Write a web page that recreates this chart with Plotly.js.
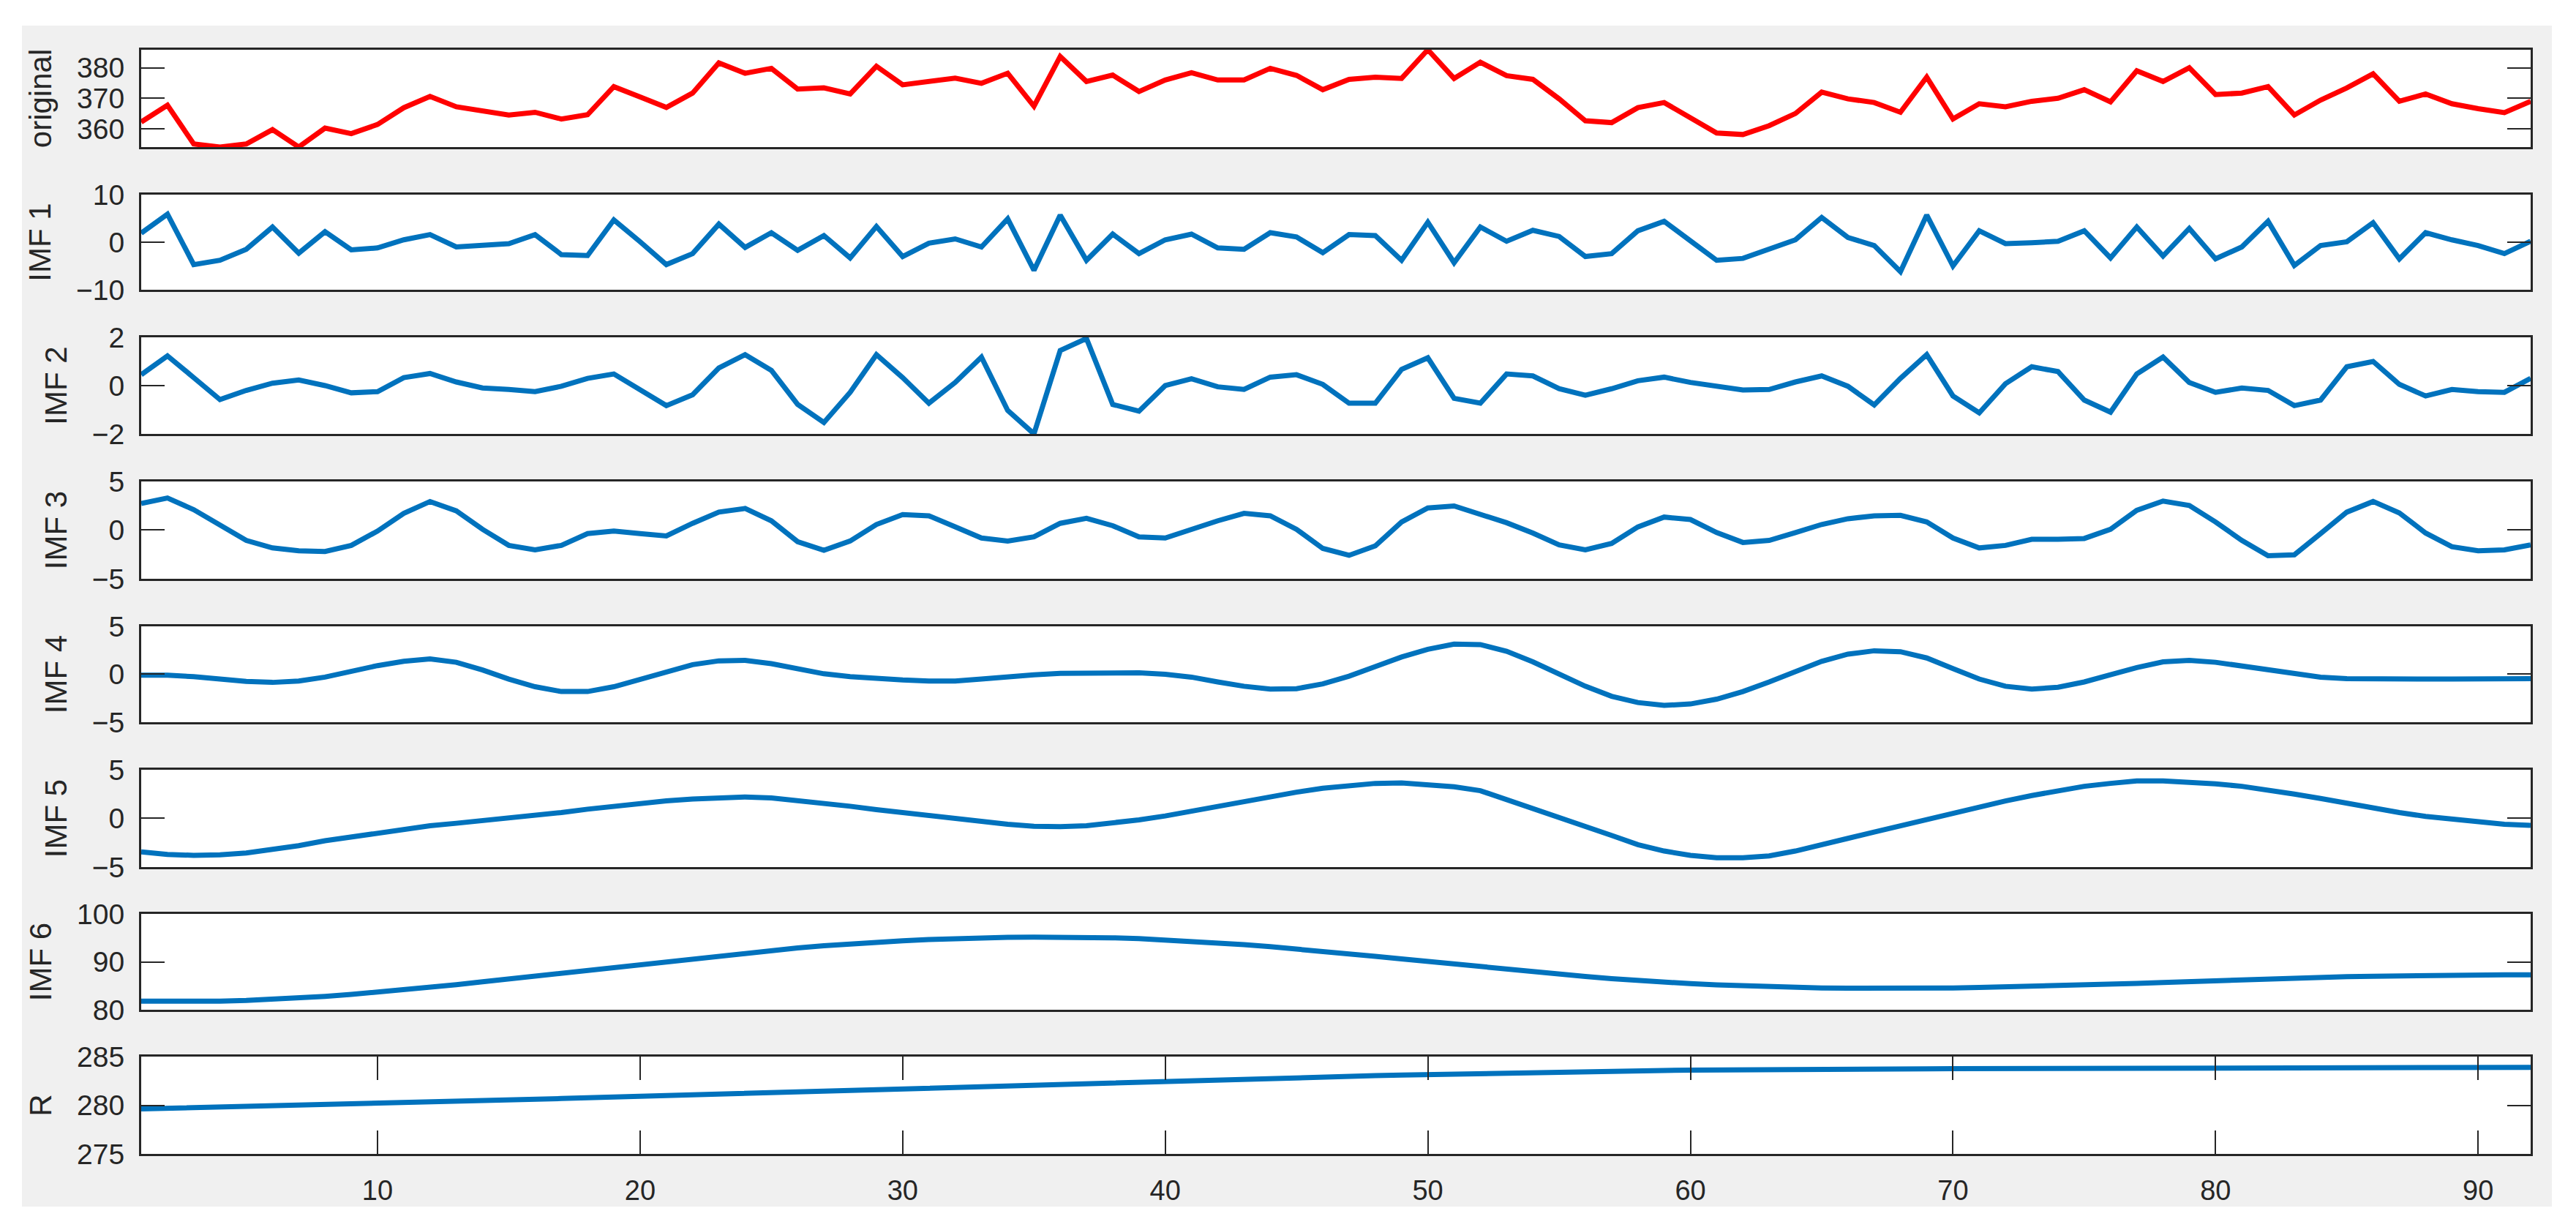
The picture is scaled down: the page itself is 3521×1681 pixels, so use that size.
<!DOCTYPE html>
<html>
<head>
<meta charset="utf-8">
<script src="https://cdn.plot.ly/plotly-3.0.1.min.js"></script>
<style>
  html, body { margin: 0; padding: 0; background: #ffffff; width: 3521px; height: 1681px; overflow: hidden; }
  #chart { position: absolute; left: 30px; top: 35px; width: 3458px; height: 1614px; }
</style>
</head>
<body>
<div id="chart"></div>
<script>
// ---------------- data ----------------
const sampleIndex = Array.from({length: 92}, (_, i) => i + 1);

const original = [362.2,367.7,355.0,354.0,355.0,359.7,354.0,360.2,358.4,361.4,
  366.9,370.6,367.2,365.8,364.5,365.4,363.2,364.6,373.8,370.4,
  367.0,371.7,381.6,378.2,379.8,373.0,373.4,371.4,380.5,374.4,
  375.6,376.6,374.9,378.2,367.4,383.7,375.5,377.6,372.2,376.0,
  378.4,376.0,376.0,379.8,377.5,372.8,376.2,376.9,376.5,385.9,
  376.5,381.8,377.4,376.2,369.8,362.6,362.0,366.9,368.6,363.4,
  358.6,358.1,361.0,365.0,372.0,369.8,368.6,365.4,376.9,363.2,
  368.2,367.2,369.0,370.0,372.8,368.8,379.0,375.5,380.0,371.2,
  371.7,373.8,364.5,369.4,373.4,378.0,369.0,371.4,368.2,366.6,
  365.3,369.0];

const imf1 = [1.9,5.9,-4.7,-3.8,-1.5,3.2,-2.3,2.2,-1.6,-1.2,
  0.5,1.6,-1.0,-0.7,-0.3,1.6,-2.6,-2.8,4.7,0.1,
  -4.7,-2.4,3.8,-1.1,2.0,-1.7,1.4,-3.3,3.3,-3.0,
  -0.2,0.7,-1.0,4.9,-5.9,5.7,-3.8,1.7,-2.4,0.5,
  1.7,-1.2,-1.5,2.0,1.1,-2.2,1.6,1.4,-3.8,4.2,
  -4.3,3.2,0.2,2.5,1.2,-3.0,-2.4,2.4,4.4,0.3,
  -3.8,-3.4,-1.5,0.5,5.2,1.0,-0.7,-6.2,5.7,-5.0,
  2.4,-0.3,-0.1,0.2,2.4,-3.3,3.2,-2.9,2.9,-3.5,
  -1.0,4.4,-4.9,-0.7,0.1,4.1,-3.5,2.0,0.5,-0.7,
  -2.4,0.2];

const imf2 = [0.45,1.23,0.33,-0.58,-0.2,0.1,0.23,0.0,-0.3,-0.25,
  0.33,0.5,0.15,-0.1,-0.16,-0.25,-0.03,0.3,0.48,-0.18,
  -0.83,-0.38,0.73,1.28,0.63,-0.78,-1.53,-0.28,1.28,0.33,
  -0.73,0.13,1.18,-1.03,-2.0,1.45,1.95,-0.78,-1.06,0.0,
  0.28,-0.05,-0.16,0.35,0.45,0.05,-0.73,-0.73,0.67,1.15,
  -0.53,-0.73,0.48,0.4,-0.13,-0.4,-0.13,0.2,0.35,0.13,
  -0.05,-0.18,-0.16,0.15,0.4,-0.03,-0.8,0.3,1.28,-0.43,
  -1.13,0.08,0.78,0.58,-0.6,-1.1,0.48,1.18,0.13,-0.28,
  -0.1,-0.2,-0.83,-0.6,0.78,1.0,0.05,-0.43,-0.16,-0.25,
  -0.28,0.3];

const imf3 = [2.74,3.3,2.1,0.45,-1.06,-1.83,-2.13,-2.2,-1.57,-0.1,
  1.72,2.94,1.98,0.08,-1.57,-2.03,-1.57,-0.36,-0.1,-0.36,
  -0.6,0.7,1.85,2.23,0.96,-1.19,-2.08,-1.12,0.58,1.6,
  1.47,0.33,-0.81,-1.12,-0.69,0.7,1.22,0.45,-0.69,-0.81,
  0.08,0.96,1.72,1.47,0.08,-1.88,-2.59,-1.62,0.84,2.28,
  2.48,1.6,0.76,-0.3,-1.52,-2.03,-1.37,0.33,1.34,1.09,
  -0.25,-1.27,-1.06,-0.25,0.58,1.17,1.47,1.52,0.84,-0.81,
  -1.83,-1.57,-0.94,-0.94,-0.86,0.08,2.03,2.99,2.53,0.84,
  -1.06,-2.64,-2.54,-0.36,1.85,2.94,1.77,-0.3,-1.7,-2.13,
  -2.03,-1.52];

const imf4 = [-0.1,-0.1,-0.25,-0.5,-0.75,-0.85,-0.7,-0.3,0.3,0.9,
  1.35,1.6,1.25,0.45,-0.5,-1.3,-1.8,-1.8,-1.3,-0.5,
  0.3,1.0,1.4,1.45,1.1,0.55,0.05,-0.25,-0.45,-0.6,
  -0.7,-0.7,-0.5,-0.25,-0.05,0.1,0.15,0.2,0.15,0.0,
  -0.3,-0.8,-1.25,-1.55,-1.5,-1.0,-0.2,0.8,1.8,2.6,
  3.15,3.1,2.4,1.3,0.0,-1.25,-2.3,-2.95,-3.25,-3.1,
  -2.6,-1.8,-0.8,0.3,1.35,2.1,2.45,2.35,1.7,0.6,
  -0.5,-1.25,-1.55,-1.35,-0.8,-0.05,0.7,1.3,1.45,1.25,
  0.85,0.4,0.0,-0.3,-0.45,-0.5,-0.5,-0.5,-0.5,-0.5,
  -0.5,-0.45];

const imf5 = [-3.45,-3.7,-3.8,-3.75,-3.55,-3.2,-2.8,-2.3,-1.9,-1.45,
  -1.05,-0.75,-0.5,-0.25,0.0,0.3,0.6,0.95,1.25,1.55,
  1.8,2.0,2.15,2.2,2.1,1.85,1.55,1.25,0.9,0.6,
  0.25,-0.05,-0.35,-0.6,-0.8,-0.85,-0.75,-0.5,-0.15,0.25,
  0.75,1.3,1.8,2.3,2.7,3.1,3.4,3.6,3.65,3.5,
  3.25,2.85,1.95,1.0,0.1,-0.8,-1.75,-2.7,-3.35,-3.8,
  -4.05,-4.05,-3.85,-3.35,-2.75,-2.05,-1.4,-0.75,-0.1,0.55,
  1.2,1.8,2.35,2.85,3.3,3.6,3.85,3.85,3.75,3.55,
  3.3,2.95,2.5,2.05,1.55,1.05,0.6,0.2,-0.1,-0.4,
  -0.6,-0.72];

const imf6 = [81.8,81.75,81.75,81.8,81.95,82.15,82.45,82.8,83.2,83.65,
  84.15,84.7,85.25,85.85,86.45,87.05,87.65,88.25,88.85,89.45,
  90.1,90.7,91.25,91.8,92.4,92.9,93.35,93.75,94.1,94.4,
  94.65,94.85,95.0,95.1,95.15,95.15,95.1,95.0,94.85,94.6,
  94.35,94.0,93.6,93.15,92.7,92.2,91.7,91.15,90.6,90.05,
  89.5,88.95,88.4,87.9,87.4,86.95,86.5,86.1,85.75,85.45,
  85.2,85.0,84.8,84.65,84.55,84.5,84.45,84.45,84.5,84.55,
  84.65,84.75,84.9,85.05,85.2,85.35,85.5,85.7,85.9,86.1,
  86.3,86.45,86.6,86.75,86.9,87.0,87.1,87.15,87.2,87.25,
  87.3,87.3];

const residue = [279.62,279.68,279.74,279.8,279.86,279.92,279.98,280.05,280.12,280.2,
  280.27,280.34,280.41,280.48,280.55,280.62,280.69,280.77,280.85,280.93,
  281.01,281.09,281.17,281.25,281.33,281.41,281.49,281.57,281.65,281.73,
  281.81,281.89,281.97,282.05,282.13,282.21,282.29,282.37,282.45,282.52,
  282.59,282.66,282.73,282.8,282.86,282.92,282.98,283.04,283.1,283.16,
  283.22,283.27,283.32,283.37,283.42,283.46,283.5,283.54,283.58,283.61,
  283.64,283.66,283.68,283.7,283.71,283.72,283.73,283.74,283.75,283.76,
  283.77,283.78,283.79,283.8,283.81,283.82,283.83,283.84,283.85,283.86,
  283.87,283.88,283.88,283.89,283.89,283.9,283.9,283.9,283.9,283.9,
  283.9,283.9];

const panelLabels = ['original', 'IMF 1', 'IMF 2', 'IMF 3', 'IMF 4', 'IMF 5', 'IMF 6', 'R'];
const panelSeries = [original, imf1, imf2, imf3, imf4, imf5, imf6, residue];
const panelTicks = [[360, 370, 380], [-10, 0, 10], [-2, 0, 2], [-5, 0, 5], [-5, 0, 5], [-5, 0, 5], [80, 90, 100], [275, 280, 285]];
const panelRanges = [[354, 385.9], [-10, 10], [-2, 2], [-5, 5], [-5, 5], [-5, 5], [80, 100], [275, 285]];
const xTickVals = [10, 20, 30, 40, 50, 60, 70, 80, 90];
const xRange = [1, 92];

// ---------------- styling / layout ----------------
const panelColors = ['#ff0000', '#0072bd', '#0072bd', '#0072bd', '#0072bd', '#0072bd', '#0072bd', '#0072bd'];
const domains = [[0.9119, 1.0], [0.7826, 0.8688], [0.6521, 0.7396], [0.5209, 0.6090],
                 [0.3910, 0.4778], [0.2598, 0.3479], [0.1305, 0.2174], [0.0, 0.0881]];
const axisColor = '#262626';
const fontFamily = 'Liberation Sans, Arial, Helvetica, sans-serif';

const traces = [];
const layout = {
  paper_bgcolor: '#f0f0f0',
  plot_bgcolor: '#ffffff',
  showlegend: false,
  margin: {l: 163, r: 29, t: 33, b: 72},
  width: 3458,
  height: 1614,
  font: {family: fontFamily, color: axisColor}
};

panelSeries.forEach((series, k) => {
  const n = k + 1;
  const xa = n === 1 ? 'x' : 'x' + n;
  const ya = n === 1 ? 'y' : 'y' + n;
  traces.push({
    x: sampleIndex, y: series, type: 'scatter', mode: 'lines',
    xaxis: xa, yaxis: ya,
    line: {color: panelColors[k], width: 7},
    hoverinfo: 'skip'
  });
  const last = (k === panelSeries.length - 1);
  layout[n === 1 ? 'xaxis' : 'xaxis' + n] = {
    domain: [0, 1], range: xRange, anchor: ya,
    showline: true, mirror: last ? 'ticks' : true, linecolor: axisColor, linewidth: 3,
    showgrid: false, zeroline: false,
    ticks: last ? 'inside' : '', ticklen: 32, tickwidth: 2, tickcolor: axisColor,
    tickvals: xTickVals, showticklabels: last,
    tickfont: {family: fontFamily, size: 38, color: axisColor},
    ticklabelstandoff: 14
  };
  layout[n === 1 ? 'yaxis' : 'yaxis' + n] = {
    domain: domains[k], range: panelRanges[k], anchor: xa,
    showline: true, mirror: 'ticks', linecolor: axisColor, linewidth: 3,
    showgrid: false, zeroline: false,
    ticks: 'inside', ticklen: 32, tickwidth: 2, tickcolor: axisColor,
    tickvals: panelTicks[k],
    tickfont: {family: fontFamily, size: 39, color: axisColor},
    ticklabelstandoff: 12,
    automargin: true,
    title: {text: panelLabels[k], font: {family: fontFamily, size: 42, color: axisColor}, standoff: 22}
  };
});

Plotly.newPlot('chart', traces, layout, {staticPlot: true, displayModeBar: false});
</script>
</body>
</html>
